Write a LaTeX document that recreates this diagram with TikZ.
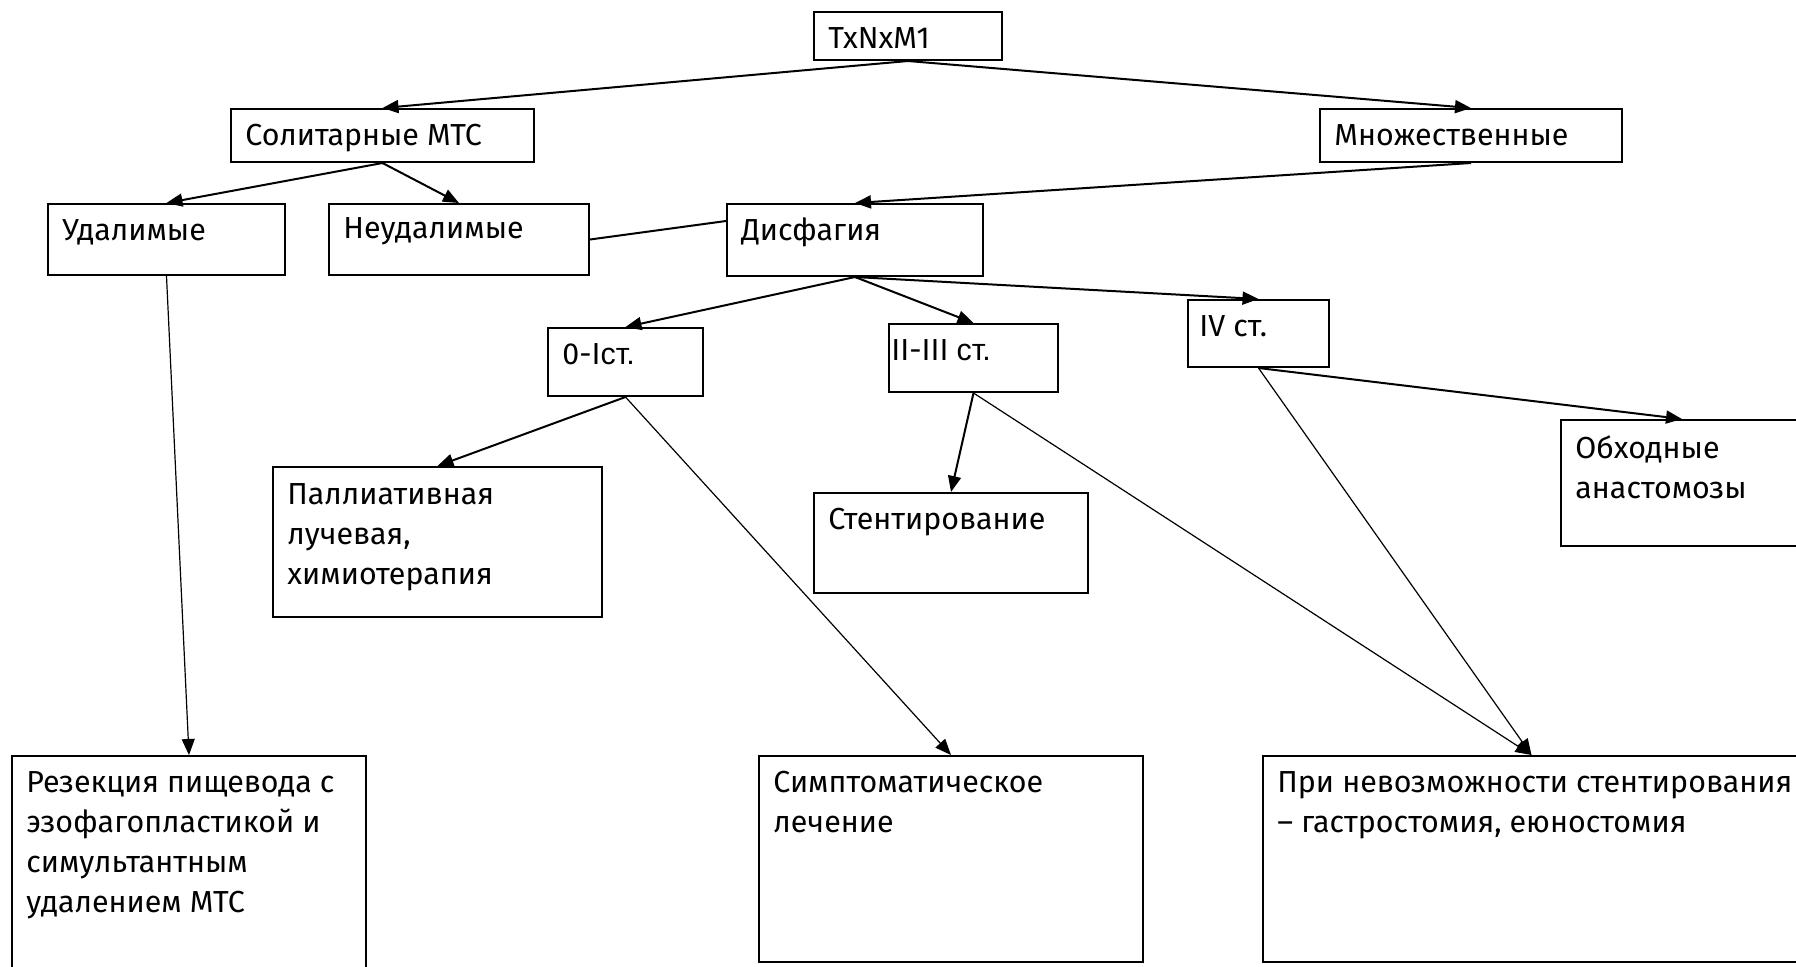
\documentclass[tikz,border=0pt]{standalone}
\usepackage{fontspec}
\setmainfont{Fira Sans}
\newfontfamily\arialst{Liberation Sans}
\usetikzlibrary{arrows.meta,positioning,fit}
\tikzset{
  box/.style={draw, line width=1pt, inner sep=0pt},
  txt/.style={inner sep=0pt, align=left, font=\fontsize{15.2}{20}\selectfont},
  arr/.style={line width=1pt, -{Triangle[length=8pt,width=6.5pt]}},
  thinarr/.style={line width=0.6pt, -{Triangle[length=8pt,width=6.5pt]}},
}
\begin{document}
\begin{tikzpicture}[x=0.5pt, y=-0.5pt]
            \useasboundingbox (0,0) rectangle (1796,966);
            \clip (0,0) rectangle (1796,966);
            \node [box, fit={(814,12) (1002,60)}] (tnm) {};
            \node [box, fit={(231,109) (534,162)}] (sol) {};
            \node [box, fit={(1320,109) (1622,162)}] (mn) {};
            \node [box, fit={(48,204) (285,275)}] (ud) {};
            \node [box, fit={(329,204) (589,275)}] (neud) {};
            \node [box, fit={(727,204) (983,276)}] (dis) {};
            \node [box, fit={(548,328) (703,396)}] (oi) {};
            \node [box, fit={(889,324) (1058,392)}] (tt) {};
            \node [box, fit={(1188,300) (1329,367)}] (four) {};
            \node [box, fit={(273,467) (602,617)}] (pal) {};
            \node [box, fit={(814,493) (1088,593)}] (sten) {};
            \node [box, fit={(1561,420) (1803,546)}] (obh) {};
            \node [box, fit={(12,756) (366,990)}] (rez) {};
            \node [box, fit={(759,756) (1143,962)}] (sim) {};
            \node [box, fit={(1263,756) (1800,962)}] (pri) {};
            \node [txt, below right=8pt and 7.5pt of tnm.north west] (tnmt) {TxNxM1};
            \node [txt, below right=8pt and 7.5pt of sol.north west] (solt) {Солитарные МТС};
            \node [txt, below right=8pt and 7.5pt of mn.north west] (mnt) {Множественные};
            \node [txt, below right=8pt and 7.5pt of ud.north west] (udt) {Удалимые};
            \node [txt, below right=7pt and 7.5pt of neud.north west] (neudt) {Неудалимые};
            \node [txt, below right=7pt and 7.5pt of dis.north west] (dist) {Дисфагия};
            \node [txt, below right=8pt and 7.5pt of oi.north west] (oit) {0-I{\arialst ст.}};
            \node [txt, below right=8pt and 1.5pt of tt.north west] (ttt) {II-III {\arialst ст.}};
            \node [txt, below right=8pt and 6pt of four.north west] (fourt) {IV ст.};
            \node [txt, below right=8.5pt and 7.5pt of pal.north west] (palt) {Паллиативная\\лучевая,\\химиотерапия};
            \node [txt, below right=8pt and 7.5pt of sten.north west] (stent) {Стентирование};
            \node [txt, below right=8pt and 7.5pt of obh.north west] (obht) {Обходные\\анастомозы};
            \node [txt, below right=8pt and 7.5pt of rez.north west] (rezt) {Резекция пищевода с\\эзофагопластикой и\\симультантным\\удалением МТС};
            \node [txt, below right=8pt and 7.5pt of sim.north west] (simt) {Симптоматическое\\лечение};
            \node [txt, below right=8pt and 7.5pt of pri.north west] (prit) {При невозможности стентирования\\– гастростомия, еюностомия};
            \draw [arr] (tnm.south) -- (sol.north);
            \draw [arr] (tnm.south) -- (mn.north);
            \draw [arr] (sol.south) -- (ud.north);
            \draw [arr] (sol.south) -- (neud.north);
            \draw [arr] (mn.south) -- (dis.north);
            \draw [line width=1pt] (neud.east) -- ([yshift=9.5pt]dis.west);
            \draw [arr] (dis.south) -- (oi.north);
            \draw [arr] (dis.south) -- (tt.north);
            \draw [arr] (dis.south) -- (four.north);
            \draw [arr] (oi.south) -- (pal.north);
            \draw [thinarr] (oi.south) -- (sim.north);
            \draw [arr] (tt.south) -- (sten.north);
            \draw [thinarr] (tt.south) -- (pri.north);
            \draw [thinarr] (four.south) -- (pri.north);
            \draw [arr] (four.south) -- (obh.north);
            \draw [thinarr] (ud.south) -- (rez.north);
\end{tikzpicture}
\end{document}
